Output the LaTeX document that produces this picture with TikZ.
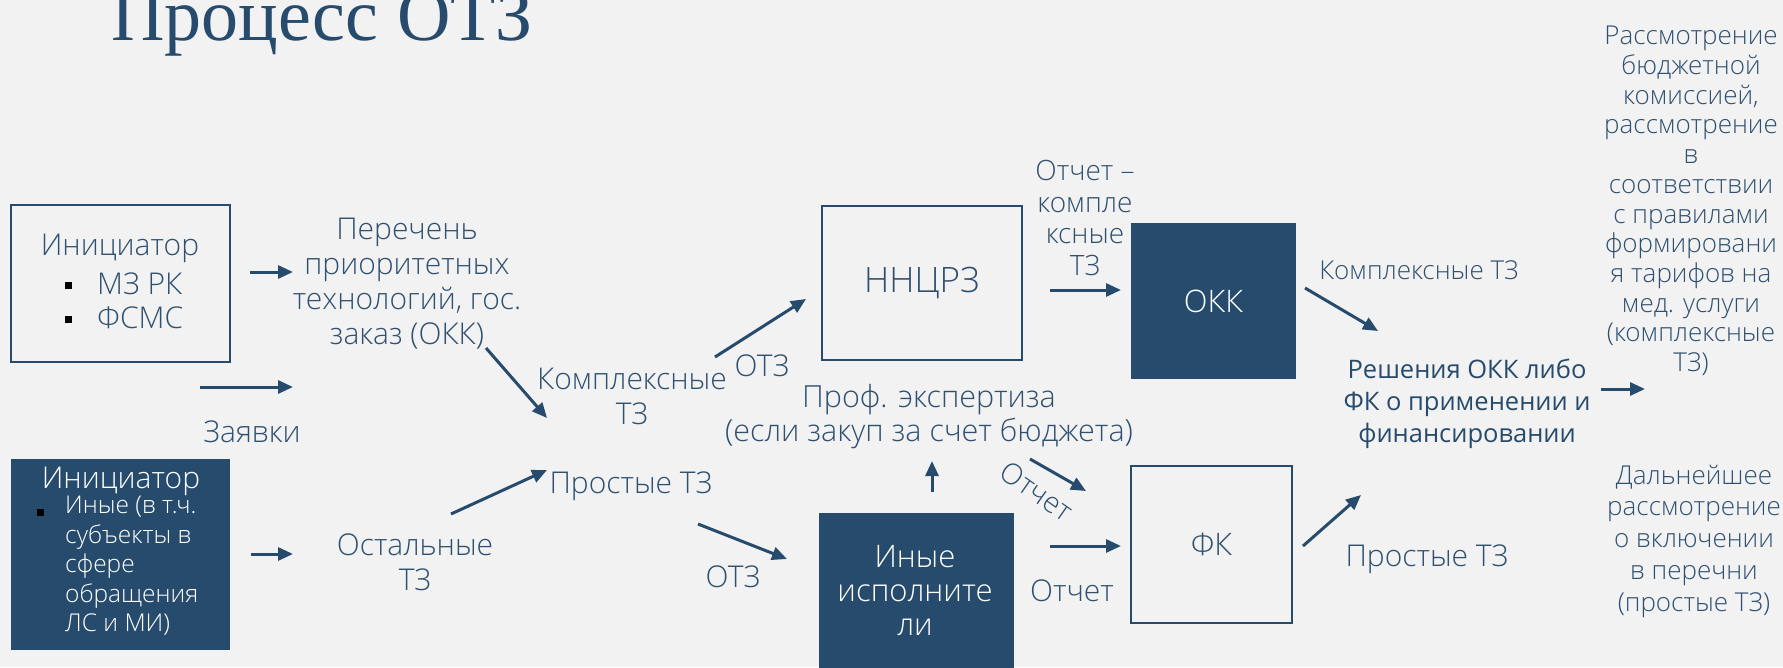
\documentclass[tikz,border=0pt]{standalone}
\usepackage{fontspec}
\setmainfont{Open Sans Light}
\newfontfamily\regfont{Open Sans}
\newfontfamily\titlefont{Liberation Serif}
\usetikzlibrary{arrows.meta}
\definecolor{navy}{HTML}{264B6D}
\definecolor{txt}{HTML}{2F5070}
\definecolor{bg}{HTML}{F2F2F2}
\begin{document}
\begin{tikzpicture}[x=1pt,y=-1pt,
 lbl/.style={text=txt, align=center, inner sep=0pt, font=\fontsize{30}{35}\selectfont},
 small/.style={text=txt, align=center, inner sep=0pt, font=\fontsize{26}{29.7}\selectfont},
 arr/.style={draw=navy, line width=3pt, -{Triangle[length=15pt,width=13pt]}},
 obox/.style={draw=navy, line width=2.5pt, inner sep=0pt, text=txt, font=\fontsize{31}{35}\selectfont},
 fbox/.style={fill=navy, draw=none, inner sep=0pt, text=white, font=\fontsize{31}{35}\selectfont},
 bul/.style={fill=black, minimum size=7pt, inner sep=0pt},
]
\useasboundingbox (0,0) rectangle (1783,667);
\clip (0,0) rectangle (1783,667);
\fill[bg] (0,0) rectangle (1783,667);

% title
\node[anchor=base west, inner sep=0pt, text=navy, font=\titlefont\fontsize{74}{80}\selectfont] (title) at (111,40) {Процесс ОТЗ};

% boxes
\node[obox, minimum width=219pt, minimum height=157pt] (ini1) at (120.5,283.5) {};
\node[fbox, minimum width=219pt, minimum height=191pt] (ini2) at (120.5,554.5) {};
\node[obox, minimum width=200pt, minimum height=154pt, font=\fontsize{35}{40}\selectfont] (nncrz) at (922,283) {ННЦРЗ};
\node[fbox, minimum width=165pt, minimum height=156pt] (okk) at (1213.5,301) {ОКК};
\node[obox, minimum width=161pt, minimum height=157pt] (fk) at (1211.5,544.5) {ФК};
\node[fbox, minimum width=195pt, minimum height=187pt] (other) at (916.5,606.5) {};

% initiator 1 contents
\node[lbl] (ini1t) at (120,248) {Инициатор};
\node[bul] (b1) at (68,285) {};
\node[bul] (b2) at (68,319) {};
\node[lbl, anchor=west] (mz) at (97,284) {МЗ РК};
\node[lbl, anchor=west] (fsms) at (97,318) {ФСМС};

% initiator 2 contents
\node[lbl, text=white] (ini2t) at (121,481) {Инициатор};
\node[bul] (b3) at (40,512) {};
\node[inner sep=0pt, anchor=north west, align=left, text=white, font=\fontsize{24.5}{29.5}\selectfont] (ini2s) at (65,496) {Иные (в т.ч.\\субъекты в\\сфере\\обращения\\ЛС и МИ)};

% executors text
\node[lbl, font=\fontsize{31}{34}\selectfont, text=white] (othert) at (915,591) {Иные\\исполните\\ли};

% labels
\node[lbl] (perech) at (407,284) {Перечень\\приоритетных\\технологий, гос.\\заказ (ОКК)};
\node[lbl] (zayav) at (252,432) {Заявки};
\node[lbl] (ost) at (415,562) {Остальные\\ТЗ};
\node[lbl] (prost) at (631,486) {Простые ТЗ};
\node[lbl] (kompl) at (632,396) {Комплексные\\ТЗ};
\node[lbl] (otz1) at (762,366) {ОТЗ};
\node[lbl, font=\fontsize{28}{31.5}\selectfont] (otchk) at (1085,218) {Отчет –\\компле\\ксные\\ТЗ};
\node[lbl, font=\fontsize{26}{35}\selectfont] (komplTZ) at (1419,270) {Комплексные ТЗ};
\node[lbl, text=navy, font=\regfont\fontsize{25.5}{32}\selectfont] (resh) at (1467,404) {Решения ОКК либо\\ФК о применении и\\финансировании};
\node[small] (right1) at (1691,201) {Рассмотрение\\бюджетной\\комиссией,\\рассмотрение\\в\\соответствии\\с правилами\\формировани\\я тарифов на\\мед. услуги\\(комплексные\\ТЗ)};
\node[lbl, font=\fontsize{30.5}{34}\selectfont] (prof) at (929,417) {Проф. экспертиза\\(если закуп за счет бюджета)};
\node[lbl, rotate=-35, font=\fontsize{29}{34}\selectfont] (otchrot) at (1037,491) {Отчет};
\node[lbl] (otz2) at (733,577) {ОТЗ};
\node[lbl] (otch2) at (1072,591) {Отчет};
\node[lbl] (prostTZ) at (1427,559) {Простые ТЗ};
\node[small, font=\fontsize{26}{31.75}\selectfont] (right2) at (1694,541) {Дальнейшее\\рассмотрение\\о включении\\в перечни\\(простые ТЗ)};

% arrow endpoints
\coordinate (a1s) at (250,272); \coordinate (a1e) at (293,272);
\coordinate (a2s) at (200,387); \coordinate (a2e) at (293,387);
\coordinate (a3s) at (486,348); \coordinate (a3e) at (547,418);
\coordinate (a4s) at (251,554); \coordinate (a4e) at (293,554);
\coordinate (a5s) at (451,514); \coordinate (a5e) at (547,470);
\coordinate (a6s) at (715,357); \coordinate (a6e) at (806,299);
\coordinate (a7s) at (1050,290); \coordinate (a7e) at (1121,290);
\coordinate (a8s) at (1305,288); \coordinate (a8e) at (1378,331);
\coordinate (a9s) at (1601,389); \coordinate (a9e) at (1645,389);
\coordinate (a10s) at (932,492); \coordinate (a10e) at (932,461);
\coordinate (a11s) at (1030,459); \coordinate (a11e) at (1086,491);
\coordinate (a12s) at (698,524); \coordinate (a12e) at (787,559);
\coordinate (a13s) at (1050,546); \coordinate (a13e) at (1121,546);
\coordinate (a14s) at (1303,546); \coordinate (a14e) at (1361,495);
\foreach \i in {1,...,14} {\draw[arr] (a\i s) -- (a\i e);}
\end{tikzpicture}
\end{document}
